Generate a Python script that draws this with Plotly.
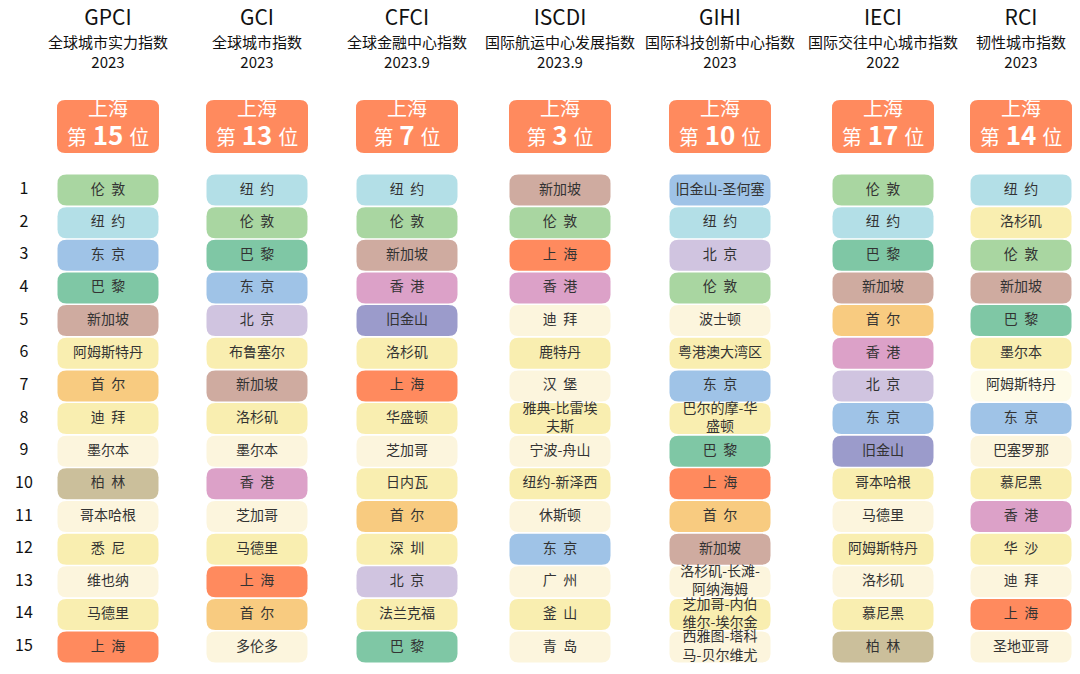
import plotly.graph_objects as go

codes = ["GPCI", "GCI", "CFCI", "ISCDI", "GIHI", "IECI", "RCI"]
names = ["全球城市实力指数", "全球城市指数", "全球金融中心指数", "国际航运中心发展指数",
         "国际科技创新中心指数", "国际交往中心城市指数", "韧性城市指数"]
years = ["2023", "2023", "2023.9", "2023.9", "2023", "2022", "2023"]
shanghai_rank = [15, 13, 7, 3, 10, 17, 14]

gpci = ["伦敦", "纽约", "东京", "巴黎", "新加坡", "阿姆斯特丹", "首尔", "迪拜", "墨尔本", "柏林",
        "哥本哈根", "悉尼", "维也纳", "马德里", "上海"]
gci = ["纽约", "伦敦", "巴黎", "东京", "北京", "布鲁塞尔", "新加坡", "洛杉矶", "墨尔本", "香港",
       "芝加哥", "马德里", "上海", "首尔", "多伦多"]
cfci = ["纽约", "伦敦", "新加坡", "香港", "旧金山", "洛杉矶", "上海", "华盛顿", "芝加哥", "日内瓦",
        "首尔", "深圳", "北京", "法兰克福", "巴黎"]
iscdi = ["新加坡", "伦敦", "上海", "香港", "迪拜", "鹿特丹", "汉堡", "雅典-比雷埃<br>夫斯", "宁波-舟山",
         "纽约-新泽西", "休斯顿", "东京", "广州", "釜山", "青岛"]
gihi = ["旧金山-圣何塞", "纽约", "北京", "伦敦", "波士顿", "粤港澳大湾区", "东京", "巴尔的摩-华<br>盛顿",
        "巴黎", "上海", "首尔", "新加坡", "洛杉矶-长滩-<br>阿纳海姆", "芝加哥-内伯<br>维尔-埃尔金",
        "西雅图-塔科<br>马-贝尔维尤"]
ieci = ["伦敦", "纽约", "巴黎", "新加坡", "首尔", "香港", "北京", "东京", "旧金山", "哥本哈根",
        "马德里", "阿姆斯特丹", "洛杉矶", "慕尼黑", "柏林"]
rci = ["纽约", "洛杉矶", "伦敦", "新加坡", "巴黎", "墨尔本", "阿姆斯特丹", "东京", "巴塞罗那", "慕尼黑",
       "香港", "华沙", "迪拜", "上海", "圣地亚哥"]
columns = [gpci, gci, cfci, iscdi, gihi, ieci, rci]

city_colors = {"伦敦": "#a9d6a1", "纽约": "#b3dfe7", "东京": "#9fc3e7", "巴黎": "#7fc7a5",
               "新加坡": "#cfaba0", "首尔": "#f8cb80", "柏林": "#cbbf9b", "上海": "#ff8a5e",
               "香港": "#dca1c8", "北京": "#d0c4e0", "旧金山": "#9b9bcb", "旧金山-圣何塞": "#9fc3e7"}

col_x = [108, 257, 407, 560, 720, 883, 1021]
box_w = 101
row_y0, row_dy, box_h = 190, 32.65, 31
off = 8  # page body margin


def rounded(x0, y0, x1, y1, r):
    return (f"M{x0+r},{y0} L{x1-r},{y0} Q{x1},{y0} {x1},{y0+r} L{x1},{y1-r} Q{x1},{y1} {x1-r},{y1} "
            f"L{x0+r},{y1} Q{x0},{y1} {x0},{y1-r} L{x0},{y0+r} Q{x0},{y0} {x0+r},{y0} Z")


def spaced(name):
    return "  ".join(name) if len(name) == 2 else name


fig = go.Figure()
shapes = []
font = "Noto Sans CJK SC"

for c, cities in enumerate(columns):
    cx = col_x[c]
    shapes.append(dict(type="path", path=rounded(cx - 51, 100, cx + 51, 153, 8),
                       fillcolor="#ff8a5e", line=dict(width=0), layer="below"))
    xs, ys, txt = [], [], []
    for i, city in enumerate(cities):
        y = row_y0 + i * row_dy
        base = "#f9eeb0" if i % 2 == 1 else "#fcf5dd"
        if c == 6 and city == "阿姆斯特丹":
            base = "#fefbe8"
        col = city_colors.get(city, base)
        shapes.append(dict(type="path",
                           path=rounded(cx - box_w / 2, y - box_h / 2, cx + box_w / 2, y + box_h / 2, 9),
                           fillcolor=col, line=dict(width=0), layer="below"))
        xs.append(cx)
        ys.append(y)
        txt.append(spaced(city))
    fig.add_trace(go.Scatter(x=xs, y=ys, text=txt, mode="text", hoverinfo="skip",
                             textfont=dict(family=font, size=14, color="#333333")))
    fig.add_trace(go.Scatter(x=[cx], y=[20], text=[codes[c]], mode="text", hoverinfo="skip",
                             textfont=dict(family=font, size=21, color="#111111")))
    fig.add_trace(go.Scatter(x=[cx, cx], y=[44, 64], text=[names[c], years[c]], mode="text",
                             hoverinfo="skip", textfont=dict(family=font, size=15, color="#111111")))
    fig.add_trace(go.Scatter(x=[cx], y=[111], text=["上海"], mode="text", hoverinfo="skip",
                             textfont=dict(family=font, size=20, color="white")))
    fig.add_trace(go.Scatter(x=[cx], y=[140],
                             text=[f"第<b><span style='font-size:26px'> {shanghai_rank[c]} </span></b>位"],
                             mode="text", hoverinfo="skip",
                             textfont=dict(family=font, size=20, color="white")))

fig.add_trace(go.Scatter(x=[24] * 15, y=[row_y0 + i * row_dy for i in range(15)],
                         text=[str(i + 1) for i in range(15)], mode="text", hoverinfo="skip",
                         textfont=dict(family=font, size=16, color="#111111")))

fig.update_layout(width=1080, height=674, margin=dict(l=0, r=0, t=0, b=0),
                  plot_bgcolor="white", paper_bgcolor="white", showlegend=False, shapes=shapes,
                  xaxis=dict(range=[off, 1080 + off], visible=False, fixedrange=True),
                  yaxis=dict(range=[674 + off, off], visible=False, fixedrange=True))
fig.write_html("out.html")
